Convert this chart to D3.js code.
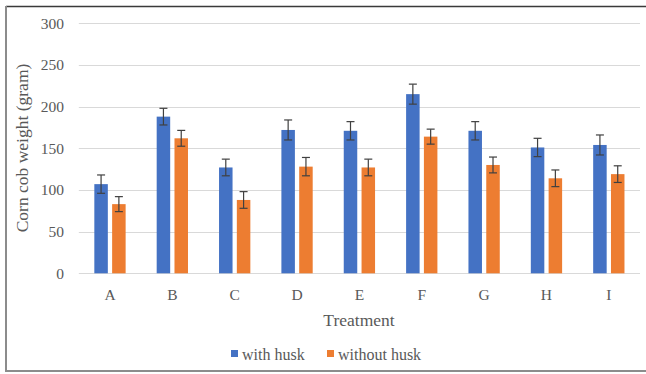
<!DOCTYPE html>
<html>
<head>
<meta charset="utf-8">
<script src="https://cdn.jsdelivr.net/npm/d3@7/dist/d3.min.js"></script>
<style>
  html, body { margin: 0; padding: 0; background: #fff; }
  svg { display: block; }
  text { font-family: "Liberation Serif", "Times New Roman", serif; fill: #595959; }
</style>
</head>
<body>
<svg id="chart" width="646" height="374"></svg>
<script>
const categories = ["A", "B", "C", "D", "E", "F", "G", "H", "I"];
const seriesNames = ["with husk", "without husk"];
const withHusk = [107, 188, 127, 172, 171, 215, 171, 151, 154];
const withHuskErr = [11, 10, 10, 12, 11, 12, 11, 11, 12];
const withoutHusk = [83, 162, 88, 128, 127, 164, 130, 114, 119];
const withoutHuskErr = [9, 9.5, 10, 11, 10, 9, 9.5, 10, 10];
const yTicks = [0, 50, 100, 150, 200, 250, 300];
const colors = ["#4472C4", "#ED7D31"];

const svg = d3.select("#chart");

// outer frame
svg.append("line").attr("x1", 6).attr("x2", 646).attr("y1", 6.5).attr("y2", 6.5)
  .attr("stroke", "#3a3a3a").attr("stroke-width", 1.5);
svg.append("line").attr("x1", 6).attr("x2", 6).attr("y1", 6).attr("y2", 372)
  .attr("stroke", "#8c8c8c").attr("stroke-width", 2);
svg.append("line").attr("x1", 5).attr("x2", 646).attr("y1", 371).attr("y2", 371)
  .attr("stroke", "#8c8c8c").attr("stroke-width", 2);

const x = d3.scaleBand().domain(categories).range([78.8, 640]);
const y = d3.scaleLinear().domain([0, 300]).range([273.3, 23.3]);
const barW = 13.5, offset = 8.9;

// gridlines
svg.append("g").selectAll("line").data(yTicks).join("line")
  .attr("x1", 78.8).attr("x2", 640)
  .attr("y1", d => Math.round(y(d)) + 0.5).attr("y2", d => Math.round(y(d)) + 0.5)
  .attr("stroke", "#d9d9d9").attr("stroke-width", 1);

// y tick labels
svg.append("g").selectAll("text").data(yTicks).join("text")
  .attr("x", 64).attr("y", d => y(d)).attr("dy", "0.35em")
  .attr("text-anchor", "end").attr("font-size", 15.5).text(d => d);

const series = [
  { vals: withHusk, errs: withHuskErr, dx: -offset, color: colors[0] },
  { vals: withoutHusk, errs: withoutHuskErr, dx: offset, color: colors[1] }
];

series.forEach(s => {
  const g = svg.append("g");
  const data = categories.map((c, i) => ({ c, v: s.vals[i], e: s.errs[i] }));
  g.selectAll("rect").data(data).join("rect")
    .attr("x", d => x(d.c) + x.bandwidth() / 2 + s.dx - barW / 2)
    .attr("y", d => y(d.v))
    .attr("width", barW)
    .attr("height", d => y(0) - y(d.v))
    .attr("fill", s.color);
  const eg = g.selectAll("g.err").data(data).join("g").attr("class", "err");
  const cx = d => x(d.c) + x.bandwidth() / 2 + s.dx;
  eg.append("line").attr("x1", cx).attr("x2", cx)
    .attr("y1", d => y(d.v + d.e)).attr("y2", d => y(d.v - d.e))
    .attr("stroke", "#404040").attr("stroke-width", 1.2);
  eg.append("line").attr("x1", d => cx(d) - 4).attr("x2", d => cx(d) + 4)
    .attr("y1", d => y(d.v + d.e)).attr("y2", d => y(d.v + d.e))
    .attr("stroke", "#404040").attr("stroke-width", 1.2);
  eg.append("line").attr("x1", d => cx(d) - 4).attr("x2", d => cx(d) + 4)
    .attr("y1", d => y(d.v - d.e)).attr("y2", d => y(d.v - d.e))
    .attr("stroke", "#404040").attr("stroke-width", 1.2);
});

// x labels
svg.append("g").selectAll("text").data(categories).join("text")
  .attr("x", d => x(d) + x.bandwidth() / 2).attr("y", 295)
  .attr("dy", "0.35em").attr("text-anchor", "middle").attr("font-size", 15.5)
  .text(d => d);

// axis titles
svg.append("text").attr("x", 359).attr("y", 320).attr("dy", "0.35em")
  .attr("text-anchor", "middle").attr("font-size", 17.5).text("Treatment");
svg.append("text").attr("transform", "translate(22,148) rotate(-90)")
  .attr("dy", "0.35em").attr("text-anchor", "middle").attr("font-size", 17.5)
  .text("Corn cob weight (gram)");

// legend
const legendX = [231, 327];
const lg = svg.append("g");
seriesNames.forEach((name, i) => {
  lg.append("rect").attr("x", legendX[i]).attr("y", 350).attr("width", 7).attr("height", 7)
    .attr("fill", colors[i]);
  lg.append("text").attr("x", legendX[i] + 11).attr("y", 354).attr("dy", "0.35em")
    .attr("font-size", 16).text(name);
});
</script>
</body>
</html>
